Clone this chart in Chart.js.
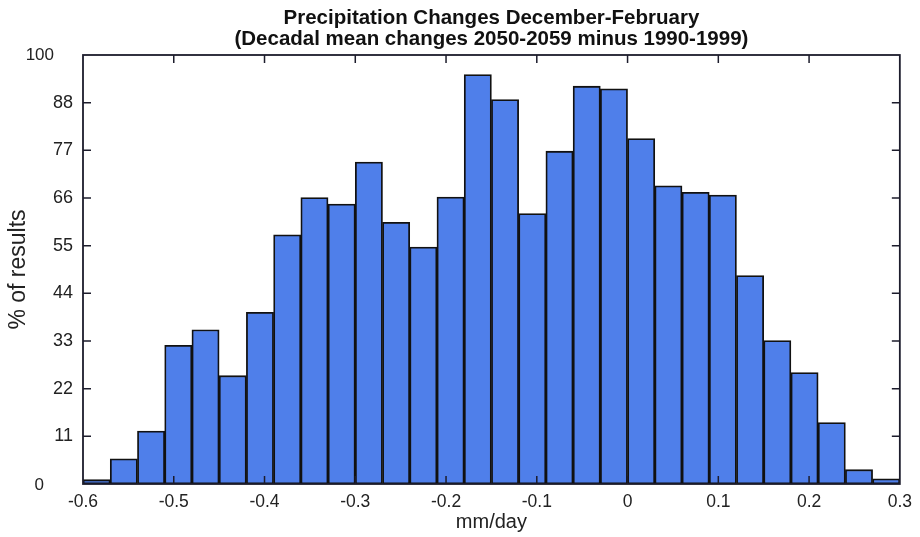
<!DOCTYPE html>
<html>
<head>
<meta charset="utf-8">
<script src="https://cdn.jsdelivr.net/npm/chart.js@4/dist/chart.umd.min.js"></script>
<style>
  html,body{margin:0;padding:0;background:#fff}
  #wrap{width:920px;height:537px;position:relative}
</style>
</head>
<body>
<div id="wrap"><canvas id="hist"></canvas></div>
<script>
// bin centres (mm/day), bins 0.03 wide from -0.6 to 0.3
const binCenters=[-0.585,-0.555,-0.525,-0.495,-0.465,-0.435,-0.405,-0.375,-0.345,-0.315,
  -0.285,-0.255,-0.225,-0.195,-0.165,-0.135,-0.105,-0.075,-0.045,-0.015,
  0.015,0.045,0.075,0.105,0.135,0.165,0.195,0.225,0.255,0.285];
// % of results in each bin
const pctResults=[1.0,5.8,12.2,32.0,35.6,25.0,39.6,57.5,66.1,64.6,
  74.3,60.4,54.7,66.2,94.5,88.7,62.4,76.8,91.8,91.2,
  79.7,68.8,67.3,66.7,48.1,33.1,25.7,14.2,3.3,1.2];
const yTicks=[0,11,22,33,44,55,66,77,88,99];
const yTickLabels=['0','11','22','33','44','55','66','77','88','100'];
const titleLines=['Precipitation Changes December-February','(Decadal mean changes 2050-2059 minus 1990-1999)'];

const FONT="'Liberation Sans', Arial, Helvetica, sans-serif";
Chart.defaults.font.family=FONT;
Chart.defaults.color='#222';

const AX='#1c1c2c';
// box + inward ticks on all four sides, plus the two odd-placed y labels
const frame={id:'frame',afterDraw(chart){
  const{ctx,chartArea:{left,right,top,bottom},scales:{x,y}}=chart;
  ctx.save();
  ctx.strokeStyle=AX;ctx.lineWidth=1.8;
  ctx.strokeRect(left,top,right-left,bottom-top);
  const L=8;
  ctx.lineWidth=1.5;
  ctx.beginPath();
  x.ticks.forEach(t=>{
    const px=x.getPixelForValue(t.value);
    if(px<=left+1||px>=right-1) return;
    ctx.moveTo(px,bottom);ctx.lineTo(px,bottom-L);
    ctx.moveTo(px,top);ctx.lineTo(px,top+L);
  });
  y.ticks.forEach(t=>{
    const py=y.getPixelForValue(t.value);
    if(py<=top+1||py>=bottom-1) return;
    ctx.moveTo(left,py);ctx.lineTo(left+L,py);
    ctx.moveTo(right,py);ctx.lineTo(right-L,py);
  });
  ctx.stroke();
  ctx.fillStyle='#222';ctx.font="17px "+FONT;
  ctx.textAlign='right';ctx.textBaseline='middle';
  ctx.fillText(yTickLabels[yTicks.length-1],54,y.getPixelForValue(yTicks[yTicks.length-1]));
  ctx.fillText(yTickLabels[0],44,y.getPixelForValue(yTicks[0])+1);
  ctx.restore();
}};

new Chart(document.getElementById('hist'),{
  type:'bar',
  data:{datasets:[{
    data:binCenters.map((c,i)=>({x:c,y:pctResults[i]})),
    backgroundColor:'#4f7fea',borderColor:'#111',borderWidth:1.8,borderSkipped:false,
    barPercentage:1,categoryPercentage:1
  }]},
  options:{
    responsive:true,maintainAspectRatio:false,animation:false,
    layout:{padding:{left:0,right:18,top:0,bottom:0}},
    plugins:{
      legend:{display:false},tooltip:{enabled:false},
      title:{display:true,text:titleLines,fullSize:false,color:'#111',
        font:{size:20.5,weight:'bold',lineHeight:1.0},padding:{top:8.5,bottom:5.5}}
    },
    scales:{
      x:{type:'linear',min:-0.6,max:0.3,offset:false,
        grid:{display:false,drawTicks:false,offset:false},
        border:{display:false},
        ticks:{stepSize:0.1,autoSkip:false,maxRotation:0,padding:8,font:{size:17.5},
          callback:v=>String(+v.toFixed(1))},
        title:{display:true,text:'mm/day',font:{size:20},padding:{top:0,bottom:3}},
        afterFit(s){s.height=53;}
      },
      y:{min:0,max:99,
        grid:{display:false,drawTicks:false},
        border:{display:false},
        afterBuildTicks(s){s.ticks=yTicks.map(v=>({value:v}));},
        ticks:{padding:10,font:{size:18},
          callback:(v)=>{const i=yTicks.indexOf(v);return (i<=0||i===yTicks.length-1)?'':yTickLabels[i];}},
        title:{display:true,text:'% of results',font:{size:23},padding:{top:5,bottom:0}},
        afterFit(s){s.width=83;}
      }
    }
  },
  plugins:[frame]
});
</script>
</body>
</html>
